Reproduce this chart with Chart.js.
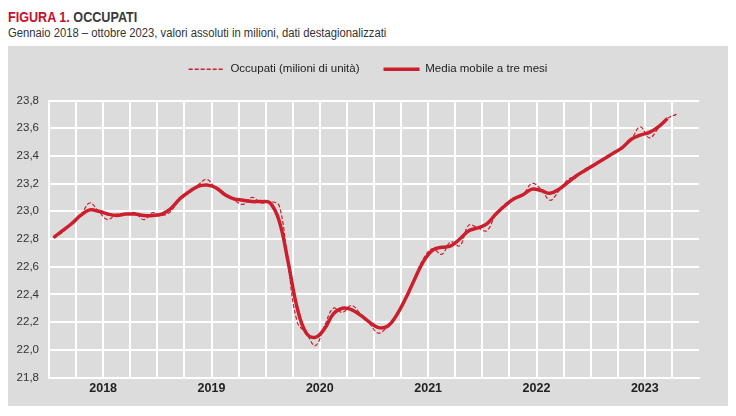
<!DOCTYPE html>
<html lang="it">
<head>
<meta charset="utf-8">
<title>Figura 1. Occupati</title>
<script src="https://cdn.jsdelivr.net/npm/chart.js@4.4.1/dist/chart.umd.min.js"></script>
<style>
  body { margin: 0; background: #fff; font-family: "Liberation Sans Narrow", "Arial Narrow", "Liberation Sans", sans-serif; }
  #title { position: absolute; left: 8px; top: 8px; font-size: 15px; font-weight: bold; color: #3a3a3a; transform: scaleX(0.84); transform-origin: 0 0; white-space: nowrap; }
  #title span { color: #c8102e; }
  #subtitle { position: absolute; left: 8px; top: 26px; font-size: 12.5px; color: #333; transform: scaleX(0.9); transform-origin: 0 0; white-space: nowrap; }
  #panel { position: absolute; left: 8px; top: 46px; width: 720px; height: 360px; background: #dcdcdc; }
</style>
</head>
<body>
<div id="title"><span>FIGURA 1.</span> OCCUPATI</div>
<div id="subtitle">Gennaio 2018 – ottobre 2023, valori assoluti in milioni, dati destagionalizzati</div>
<div id="panel"><canvas id="chart" width="720" height="360"></canvas></div>
<script>
const FONT = '"Liberation Sans Narrow", "Arial Narrow", "Liberation Sans", sans-serif';
const RED = "#cc1f2d";

const years = ["2018", "2019", "2020", "2021", "2022", "2023"];
const months = ["01", "02", "03", "04", "05", "06", "07", "08", "09", "10", "11", "12"];
const yTicks = [21.8, 22.0, 22.2, 22.4, 22.6, 22.8, 23.0, 23.2, 23.4, 23.6, 23.8];

// occupati, milioni (gen 2018 - ott 2023)
const occupati = [
  22.81, 22.85, 22.92, 22.97, 23.06, 23.00, 22.94, 22.98, 22.98, 22.99, 22.94, 22.99,
  22.97, 23.00, 23.10, 23.14, 23.19, 23.23, 23.16, 23.12, 23.08, 23.05, 23.10, 23.06,
  23.07, 23.04, 22.60, 22.20, 22.12, 22.03, 22.17, 22.30, 22.27, 22.32, 22.26, 22.19,
  22.12, 22.17, 22.25, 22.37, 22.52, 22.66, 22.73, 22.69, 22.78, 22.75, 22.90, 22.88,
  22.86, 22.98, 23.05, 23.09, 23.12, 23.20, 23.16, 23.08, 23.15, 23.23, 23.26, 23.31,
  23.34, 23.38, 23.42, 23.46, 23.52, 23.61, 23.53, 23.60, 23.67, 23.70
];

// media mobile a tre mesi
const mediaMobile = [
  22.81, 22.86, 22.91, 22.97, 23.01, 23.00, 22.98, 22.97, 22.98, 22.98, 22.97, 22.97,
  22.98, 23.02, 23.09, 23.14, 23.18, 23.19, 23.17, 23.12, 23.09, 23.08, 23.07, 23.07,
  23.06, 22.93, 22.63, 22.30, 22.12, 22.09, 22.15, 22.26, 22.30, 22.29, 22.25, 22.20,
  22.16, 22.17, 22.25, 22.37, 22.51, 22.64, 22.72, 22.74, 22.75, 22.80, 22.86, 22.88,
  22.91, 22.98, 23.04, 23.09, 23.12, 23.16, 23.15, 23.13, 23.16, 23.21, 23.26, 23.30,
  23.34, 23.38, 23.42, 23.46, 23.52, 23.55, 23.57, 23.61, 23.67
];

const labels = [];
years.forEach((y) => months.forEach((m) => labels.push(y + "-" + m)));

Chart.defaults.font.family = FONT;
Chart.defaults.color = "#333";

// more room under the legend, and the legend itself a bit higher
const legendMargin = {
  id: "legendMargin",
  beforeInit(chart) {
    const fit = chart.legend.fit;
    chart.legend.fit = function () {
      fit.bind(chart.legend)();
      this.height += 9;
    };
  },
  afterLayout(chart) {
    chart.legend.top -= 6.5;
    chart.legend.bottom -= 6.5;
  },
};

new Chart(document.getElementById("chart"), {
  type: "line",
  data: {
    labels,
    datasets: [
      {
        label: "Occupati (milioni di unità)",
        data: occupati,
        borderColor: RED,
        borderWidth: 1.2,
        borderDash: [4, 2],
        pointRadius: 0,
        tension: 0.4,
      },
      {
        label: "Media mobile a tre mesi",
        data: mediaMobile,
        borderColor: RED,
        borderWidth: 3.5,
        pointRadius: 0,
        tension: 0.4,
      },
    ],
  },
  options: {
    responsive: false,
    animation: false,
    plugins: {
      tooltip: { enabled: false },
      legend: {
        position: "top",
        labels: {
          usePointStyle: true,
          pointStyle: "line",
          pointStyleWidth: 36,
          padding: 24,
          color: "#222",
          font: { size: 11.5 },
          generateLabels(chart) {
            const items = Chart.defaults.plugins.legend.labels.generateLabels(chart);
            items[0].lineWidth = 1.6;
            items[0].lineDash = [4, 2];
            return items;
          },
        },
      },
    },
    scales: {
      x: {
        offset: true,
        grid: {
          offset: true,
          drawTicks: false,
          lineWidth: 2,
          color: (ctx) => (ctx.index % 3 === 0 ? "#ffffff" : "rgba(0,0,0,0)"),
        },
        border: { color: "#ffffff", width: 2 },
        ticks: {
          autoSkip: false,
          maxRotation: 0,
          minRotation: 0,
          padding: 4,
          labelOffset: 4.5,
          color: "#222",
          font: { size: 12.5, weight: "bold" },
          callback: (v, i) => (i % 12 === 5 ? years[i / 12 | 0] : ""),
        },
        afterFit: (s) => { s.height = 28.5; },
      },
      y: {
        min: yTicks[0],
        max: yTicks[yTicks.length - 1],
        grid: { color: "#ffffff", lineWidth: 2, drawTicks: false },
        border: { color: "#ffffff", width: 2 },
        ticks: {
          stepSize: 0.2,
          padding: 10,
          color: "#333",
          font: { size: 11.5 },
          callback: (v) => v.toFixed(1).replace(".", ","),
        },
        afterFit: (s) => { s.width = 41; },
      },
      yRight: {
        position: "right",
        grid: { display: false },
        border: { display: false },
        ticks: { display: false },
        afterFit: (s) => { s.width = 29; },
      },
    },
  },
  plugins: [legendMargin],
});
</script>
</body>
</html>
